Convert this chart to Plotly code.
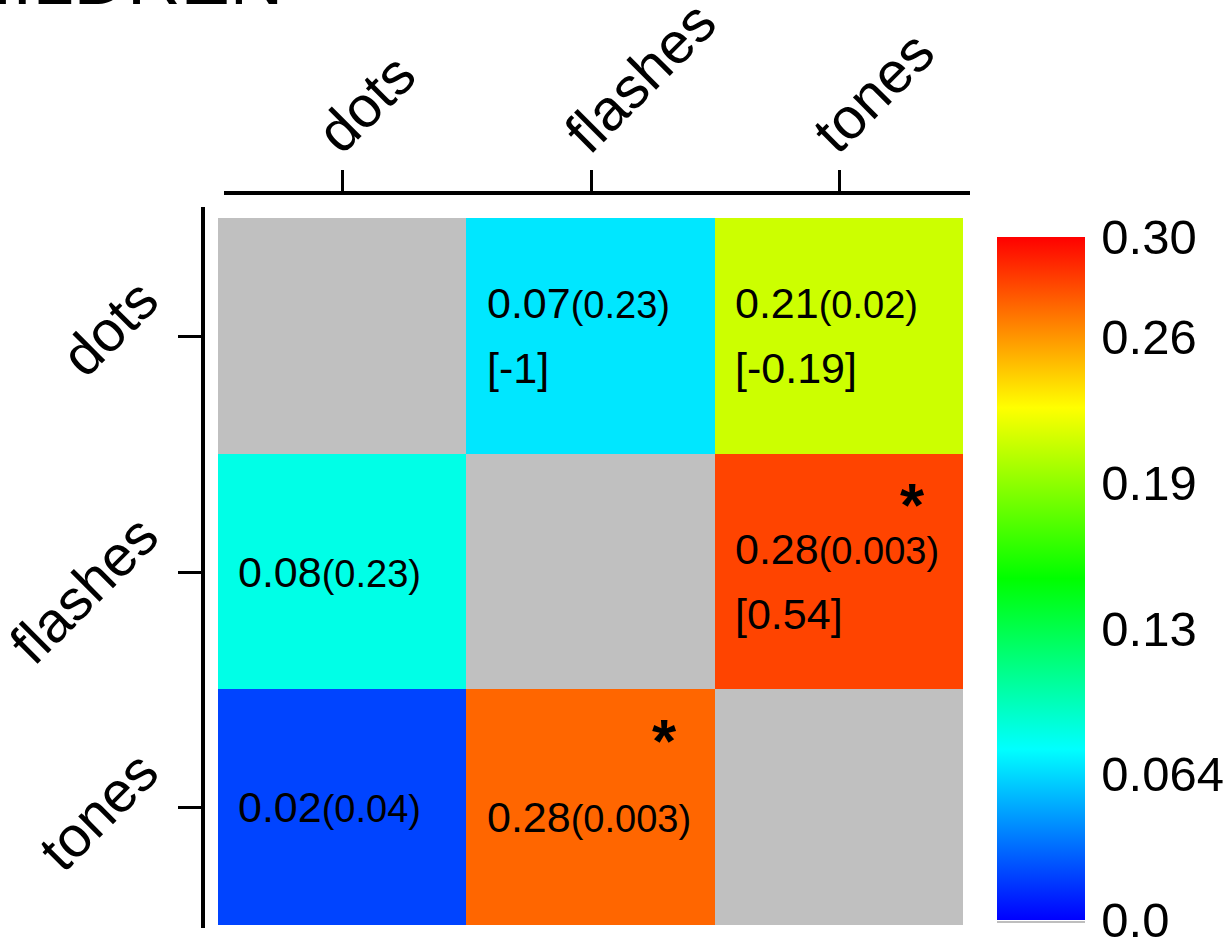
import plotly.graph_objects as go

# ---- data ----
categories = ["dots", "flashes", "tones"]

# correlation values (rows = y category, columns = x category); None on diagonal
r_values = [
    [None, 0.068, 0.21],
    [0.082, None, 0.28],
    [0.02, 0.27, None],
]
r_labels = [
    [None, "0.07", "0.21"],
    ["0.08", None, "0.28"],
    ["0.02", "0.28", None],
]
p_labels = [
    [None, "0.23", "0.02"],
    ["0.23", None, "0.003"],
    ["0.04", "0.003", None],
]
bracket_labels = [
    [None, "-1", "-0.19"],
    [None, None, "0.54"],
    [None, None, None],
]
significant = [
    [False, False, False],
    [False, False, True],
    [False, True, False],
]
diag_mask = [
    [1, None, None],
    [None, 1, None],
    [None, None, 1],
]

cbar_tickvals = [0.0, 0.064, 0.128, 0.192, 0.256, 0.30]
cbar_ticktext = ["0.0", "0.064", "0.13", "0.19", "0.26", "0.30"]
title_text = "CHILDREN"

# ---- styling ----
FONT = "Liberation Sans, Arial, sans-serif"
rainbow = [[0.0, "#0000FF"], [0.25, "#00FFFF"], [0.5, "#00FF00"],
           [0.75, "#FFFF00"], [1.0, "#FF0000"]]

W, H = 1229, 948
ML, MR, MT, MB = 200, 254, 185, 13
PW = W - ML - MR
PH = H - MT - MB


def px_x(x):
    return (x - ML) / PW


def px_y(y):
    return (H - MB - y) / PH


fig = go.Figure()

# gray diagonal cells
fig.add_trace(go.Heatmap(
    z=diag_mask, x=categories, y=categories,
    colorscale=[[0, "#C0C0C0"], [1, "#C0C0C0"]],
    showscale=False, hoverinfo="skip",
))

# main heatmap
fig.add_trace(go.Heatmap(
    z=r_values, x=categories, y=categories,
    colorscale=rainbow, zmin=0, zmax=0.30,
    colorbar=dict(
        x=px_x(997), xanchor="left", xpad=0,
        y=px_y(578.5), yanchor="middle", ypad=0,
        len=683, lenmode="pixels", thickness=88,
        outlinewidth=0,
        tickvals=cbar_tickvals, ticktext=cbar_ticktext,
        ticks="outside", ticklen=7, tickcolor="rgba(0,0,0,0)",
        ticklabeloverflow="allow",
        tickfont=dict(family=FONT, size=49, color="black"),
    ),
))

# invisible helper trace for the offset axes
fig.add_trace(go.Scatter(
    x=categories, y=categories, xaxis="x2", yaxis="y2",
    mode="markers", marker=dict(opacity=0), hoverinfo="skip", showlegend=False,
))

annotations = []
for i, row_cat in enumerate(categories):
    for j, col_cat in enumerate(categories):
        if r_labels[i][j] is None:
            continue
        base = -10 if significant[i][j] else 0
        two_line = bracket_labels[i][j] is not None
        line1 = (f"{r_labels[i][j]}<span style='font-size:38px'>"
                 f"({p_labels[i][j]})</span>")
        annotations.append(dict(
            x=col_cat, y=row_cat, xref="x", yref="y", text=line1,
            showarrow=False, xanchor="left", xshift=-106,
            yshift=base + (32.5 if two_line else 0),
            font=dict(family=FONT, size=43, color="black"),
        ))
        if two_line:
            annotations.append(dict(
                x=col_cat, y=row_cat, xref="x", yref="y",
                text=f"[{bracket_labels[i][j]}]",
                showarrow=False, xanchor="left", xshift=-106,
                yshift=base - 32.5,
                font=dict(family=FONT, size=43, color="black"),
            ))
        if significant[i][j]:
            annotations.append(dict(
                x=col_cat, y=row_cat, xref="x", yref="y", text="<b>*</b>",
                showarrow=False, xanchor="center", xshift=74, yshift=67,
                font=dict(family=FONT, size=62, color="black"),
            ))

annotations.append(dict(
    x=px_x(-97), y=px_y(22), xref="paper", yref="paper",
    text=title_text, showarrow=False, xanchor="left", yanchor="bottom",
    font=dict(family=FONT, size=74, color="black"),
))

fig.update_layout(
    width=W, height=H,
    margin=dict(l=ML, r=MR, t=MT, b=MB, autoexpand=False),
    paper_bgcolor="white", plot_bgcolor="rgba(0,0,0,0)",
    showlegend=False,
    annotations=annotations,
    shapes=[dict(type="line", xref="paper", yref="paper",
                 x0=px_x(997), x1=px_x(1085), y0=px_y(922), y1=px_y(922),
                 line=dict(color="#BEBEBE", width=2))],
    xaxis=dict(domain=[px_x(218), px_x(963)], range=[-0.5, 2.5],
               visible=False, fixedrange=True),
    yaxis=dict(domain=[px_y(925), px_y(218)], range=[2.5, -0.5],
               visible=False, fixedrange=True),
    xaxis2=dict(
        domain=[px_x(224), px_x(970)], range=[-0.4798, 2.5282],
        anchor="free", position=px_y(193), side="top",
        showline=True, linecolor="black", linewidth=4,
        ticks="outside", ticklen=21, tickwidth=3, tickcolor="black",
        tickangle=-45, showgrid=False, zeroline=False, automargin=False,
        ticklabelshift=-22, ticklabelstandoff=-18, fixedrange=True,
        tickfont=dict(family=FONT, size=58, color="black"),
    ),
    yaxis2=dict(
        domain=[px_y(928), px_y(207)], range=[2.5085, -0.5466],
        anchor="free", position=px_x(203), side="left",
        showline=True, linecolor="black", linewidth=4,
        ticks="outside", ticklen=23, tickwidth=3, tickcolor="black",
        tickangle=-45, showgrid=False, zeroline=False, automargin=False,
        ticklabelshift=44, ticklabelstandoff=25, fixedrange=True,
        tickfont=dict(family=FONT, size=57, color="black"),
    ),
)

fig.write_html(
    "out.html",
    config={"displayModeBar": False},
    post_script="document.body.style.margin='0';",
)
